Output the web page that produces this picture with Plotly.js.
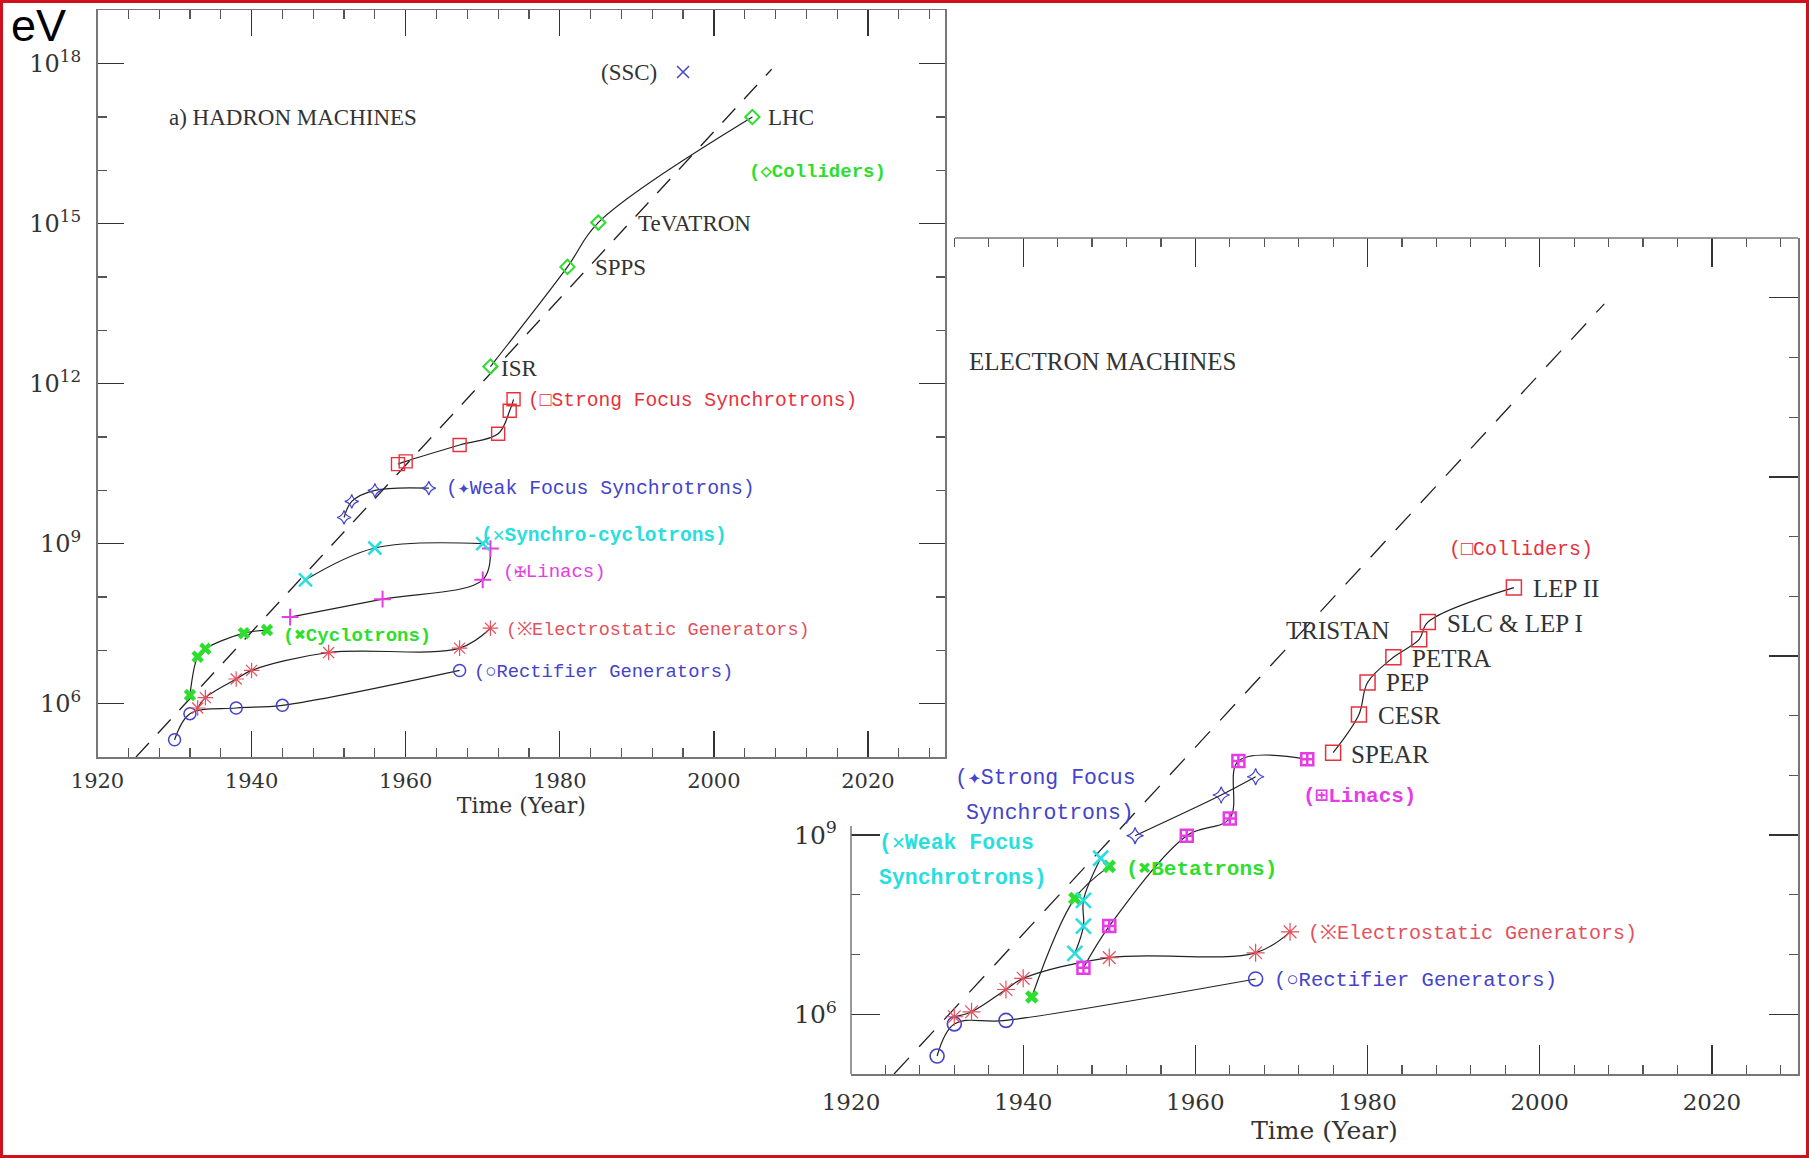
<!DOCTYPE html>
<html><head><meta charset="utf-8">
<script src="https://cdn.plot.ly/plotly-3.0.1.min.js"></script>
<style>html,body{margin:0;padding:0;background:#fff;}#chart{width:1809px;height:1158px;}</style>
</head><body><div id="chart"></div>
<script>
// ===== Data: (a) hadron machines =====
const hadRectYears = [1930, 1932, 1938, 1944, 1967];
const hadRectEnergy = [2.1e5, 6.5e5, 8.3e5, 9.3e5, 4.2e6];
const hadEstatYears = [1933, 1934, 1938, 1940, 1950, 1967, 1971];
const hadEstatEnergy = [8.3e5, 1.3e6, 2.9e6, 4.2e6, 9.1e6, 1.1e7, 2.6e7];
const hadCycloYears = [1932, 1933, 1934, 1939, 1942];
const hadCycloEnergy = [1.45e6, 7.6e6, 1.07e7, 2.1e7, 2.4e7];
const hadLinacYears = [1945, 1957, 1970, 1971];
const hadLinacEnergy = [4.2e7, 9.1e7, 2.1e8, 8.1e8];
const hadSynCycYears = [1947, 1956, 1970];
const hadSynCycEnergy = [2.1e8, 8.3e8, 1.0e9];
const hadWeakYears = [1952, 1953, 1956, 1963];
const hadWeakEnergy = [3.1e9, 6.2e9, 1.0e10, 1.1e10];
const hadStrongYears = [1959, 1960, 1967, 1972, 1973.5, 1974];
const hadStrongEnergy = [3.1e10, 3.5e10, 7.1e10, 1.15e11, 3.1e11, 5.1e11];
const hadCollYears = [1971, 1981, 1985, 2005];
const hadCollEnergy = [2.1e12, 1.55e14, 1.05e15, 1.0e17];
const sscYears = [1996];
const sscEnergy = [7.0e17];

// ===== Data: (b) electron machines =====
const eRectYears = [1930, 1932, 1938, 1967];
const eRectEnergy = [2.0e5, 6.9e5, 7.9e5, 3.9e6];
const eEstatYears = [1932, 1934, 1938, 1940, 1950, 1967, 1971];
const eEstatEnergy = [9.1e5, 1.1e6, 2.6e6, 4.0e6, 8.9e6, 1.07e7, 2.4e7];
const eBetaYears = [1941, 1946, 1950];
const eBetaEnergy = [1.95e6, 8.7e7, 3.0e8];
const eWeakYears = [1946, 1947, 1947, 1949];
const eWeakEnergy = [1.05e7, 3.0e7, 8.1e7, 4.1e8];
const eLinacYears = [1947, 1950, 1959, 1964, 1965, 1973];
const eLinacEnergy = [6.0e6, 3.0e7, 9.8e8, 1.9e9, 1.74e10, 1.86e10];
const eStrongYears = [1953, 1963, 1967];
const eStrongEnergy = [9.8e8, 4.7e9, 9.5e9];
const eCollYears = [1976, 1979, 1980, 1983, 1986, 1987, 1997];
const eCollEnergy = [2.4e10, 1.05e11, 3.6e11, 9.5e11, 1.9e12, 3.7e12, 1.4e13];

// Livingston trend (dashed)
const trendYears = [1925, 2007.5];
const trendEnergy = [1e5, 7.9e17];

// Tick labels
const yearTicks = [1920, 1940, 1960, 1980, 2000, 2020];
const eVTicks = [1e6, 1e9, 1e12, 1e15, 1e18];
const eVTickText = ['10<sup>6</sup>', '10<sup>9</sup>', '10<sup>12</sup>', '10<sup>15</sup>', '10<sup>18</sup>'];
const eVMinor = [1e7, 1e8, 1e10, 1e11, 1e13, 1e14, 1e16, 1e17];

// ===== Layout geometry =====
const W = 1809, H = 1158;
const px = v => v / W, py = v => 1 - v / H;
const R = {l: 851, r: 1798, t: 238, b: 1074};   // electron panel frame
const L = {l: 97.5, r: 945, t: 10.4, b: 757};   // hadron panel frame

const C = {
  red: '#e8303c', red2: '#e4505c', blue: '#4343cc', cyan: '#28dede',
  magenta: '#e63ce6', green: '#2ede2e', ink: '#333'
};

function series(x, y, st, xa, ya, mode) {
  return {type: 'scatter', mode: mode || 'lines+markers', x: x, y: y, xaxis: xa, yaxis: ya,
    cliponaxis: false, hoverinfo: 'skip', showlegend: false,
    line: {color: '#222', width: 1.2, shape: 'spline', smoothing: 1},
    marker: {symbol: st.symbol, size: st.size, color: st.color, line: {color: st.color, width: st.lw}}};
}
function trend(xa, ya, dash) {
  return {type: 'scatter', mode: 'lines', x: trendYears, y: trendEnergy, xaxis: xa, yaxis: ya,
    hoverinfo: 'skip', showlegend: false, line: {color: '#222', width: 1.3, dash: dash}};
}

const sL = {
  rect: {symbol: 'circle-open', size: 12, color: C.blue, lw: 1.5},
  estat: {symbol: 'asterisk-open', size: 13, color: C.red2, lw: 1.2},
  cyclo: {symbol: 'x', size: 11, color: C.green, lw: 0},
  linac: {symbol: 'cross-thin-open', size: 12, color: C.magenta, lw: 2},
  syn: {symbol: 'x-thin-open', size: 13, color: C.cyan, lw: 2.5},
  weak: {symbol: 'star-diamond-open', size: 10, color: C.blue, lw: 1.2},
  strong: {symbol: 'square-open', size: 13, color: C.red, lw: 1.4},
  coll: {symbol: 'diamond-open', size: 11, color: C.green, lw: 2},
  ssc: {symbol: 'x-thin-open', size: 12, color: C.blue, lw: 1.5}
};
const sR = {
  rect: {symbol: 'circle-open', size: 14, color: C.blue, lw: 1.6},
  estat: {symbol: 'asterisk-open', size: 15, color: C.red2, lw: 1.2},
  beta: {symbol: 'x', size: 12, color: C.green, lw: 0},
  weak: {symbol: 'x-thin-open', size: 15, color: C.cyan, lw: 2.6},
  linac: {symbol: 'square-cross-open', size: 12, color: C.magenta, lw: 2.5},
  strong: {symbol: 'star-diamond-open', size: 12, color: C.blue, lw: 1.2},
  coll: {symbol: 'square-open', size: 15, color: C.red, lw: 1.5}
};

const data = [
  // electron panel (x, y)
  trend('x', 'y', '22px,15px'),
  series(eRectYears, eRectEnergy, sR.rect, 'x', 'y'),
  series(eEstatYears, eEstatEnergy, sR.estat, 'x', 'y'),
  series(eBetaYears, eBetaEnergy, sR.beta, 'x', 'y'),
  series(eWeakYears, eWeakEnergy, sR.weak, 'x', 'y'),
  series(eLinacYears, eLinacEnergy, sR.linac, 'x', 'y'),
  series(eStrongYears, eStrongEnergy, sR.strong, 'x', 'y'),
  series(eCollYears, eCollEnergy, sR.coll, 'x', 'y'),
  {type: 'scatter', x: [], y: [], xaxis: 'x3', yaxis: 'y', showlegend: false},
  {type: 'scatter', x: [], y: [], xaxis: 'x', yaxis: 'y3', showlegend: false},
  // hadron panel (x2, y2)
  trend('x2', 'y2', '19px,13px'),
  series(hadRectYears, hadRectEnergy, sL.rect, 'x2', 'y2'),
  series(hadEstatYears, hadEstatEnergy, sL.estat, 'x2', 'y2'),
  series(hadCycloYears, hadCycloEnergy, sL.cyclo, 'x2', 'y2'),
  series(hadLinacYears, hadLinacEnergy, sL.linac, 'x2', 'y2'),
  series(hadSynCycYears, hadSynCycEnergy, sL.syn, 'x2', 'y2'),
  series(hadWeakYears, hadWeakEnergy, sL.weak, 'x2', 'y2'),
  series(hadStrongYears, hadStrongEnergy, sL.strong, 'x2', 'y2'),
  series(hadCollYears, hadCollEnergy, sL.coll, 'x2', 'y2'),
  series(sscYears, sscEnergy, sL.ssc, 'x2', 'y2', 'markers')
];

function ax(o) {
  return Object.assign({showgrid: false, zeroline: false, ticks: 'inside', tickcolor: '#333',
    tickwidth: 1.3, linecolor: '#777', linewidth: 1.5, fixedrange: true}, o);
}
const minorYears = [];
for (let y = 1924; y < 2030; y += 4) if (y % 20 !== 0) minorYears.push(y);
const minorYearsTopR = minorYears.filter(v => v >= 1932);

const serifL = {family: 'Liberation Serif, serif', size: 23, color: C.ink};
const serifR = {family: 'Liberation Serif, serif', size: 25, color: C.ink};
const mono = (size, color) => ({family: 'Liberation Mono, DejaVu Sans Mono, monospace', size: size, color: color});

// [text, year, log10(eV), font, xanchor]
const hadLabels = [
  ['a) HADRON MACHINES', 1929.1, 17.0, serifL],
  ['(SSC)', 1992.7, 17.83, serifL, 'right'],
  ['LHC', 2006.9, 17.0, serifL],
  ['TeVATRON', 1990.0, 15.0, serifL],
  ['SPPS', 1984.4, 14.17, serifL],
  ['ISR', 1972.2, 12.28, serifL],
  ['<b>(◇Colliders)</b>', 2004.4, 15.97, mono(19, C.green)],
  ['(□Strong Focus Synchrotrons)', 1975.7, 11.68, mono(19.6, C.red)],
  ['(✦Weak Focus Synchrotrons)', 1965.1, 10.03, mono(19.8, C.blue)],
  ['<b>(✕Synchro-cyclotrons)</b>', 1969.6, 9.15, mono(19.5, C.cyan)],
  ['(✠Linacs)', 1972.5, 8.46, mono(19, C.magenta)],
  ['(※Electrostatic Generators)', 1972.9, 7.38, mono(18.5, C.red2)],
  ['(○Rectifier Generators)', 1968.7, 6.59, mono(18.8, C.blue)],
  ['<b>(✖Cyclotrons)</b>', 1943.9, 7.27, mono(19, C.green)]
];
const eLabels = [
  ['ELECTRON MACHINES', 1933.6, 16.94, serifR],
  ['TRISTAN', 1970.4, 12.43, serifR],
  ['SPEAR', 1977.96, 10.355, serifR],
  ['CESR', 1981.06, 11.01, serifR],
  ['PEP', 1982.0, 11.56, serifR],
  ['PETRA', 1985.1, 11.96, serifR],
  ['SLC &amp; LEP I', 1989.07, 12.54, serifR],
  ['LEP II', 1999.06, 13.13, serifR],
  ['(□Colliders)', 1989.3, 13.78, mono(20, C.red)],
  ['<b>(⊞Linacs)</b>', 1972.4, 9.65, mono(21, C.magenta)],
  ['(✦Strong Focus', 1931.96, 9.95, mono(21.5, C.blue)],
  ['Synchrotrons)', 1933.24, 9.37, mono(21.5, C.blue)],
  ['<b>(✕Weak Focus</b>', 1923.1, 8.87, mono(21.5, C.cyan)],
  ['<b>Synchrotrons)</b>', 1923.1, 8.28, mono(21.5, C.cyan)],
  ['<b>(✖Betatrons)</b>', 1951.8, 8.43, mono(21, C.green)],
  ['(※Electrostatic Generators)', 1972.96, 7.36, mono(20, C.red2)],
  ['(○Rectifier Generators)', 1969.0, 6.57, mono(20.5, C.blue)]
];
const toAnn = (xa, ya) => l => ({text: l[0], x: l[1], y: l[2], xref: xa, yref: ya,
  xanchor: l[4] || 'left', yanchor: 'middle', showarrow: false, font: l[3], borderpad: 0});

const annotations = hadLabels.map(toAnn('x2', 'y2')).concat(eLabels.map(toAnn('x', 'y')));
annotations.push({text: 'eV', xref: 'paper', yref: 'paper', x: px(10), y: py(25), xanchor: 'left',
  yanchor: 'middle', showarrow: false, borderpad: 0,
  font: {family: 'Liberation Sans, Arial, sans-serif', size: 45, color: '#000'}});

const layout = {
  width: W, height: H, margin: {l: 0, r: 0, t: 0, b: 0},
  paper_bgcolor: '#fff', plot_bgcolor: 'rgba(0,0,0,0)', showlegend: false,
  // electron panel
  xaxis: ax({domain: [px(R.l), px(R.r)], anchor: 'y', range: [1920, 2030], tickmode: 'array',
    tickvals: yearTicks, ticklen: 29, showline: true, ticklabelstandoff: 7,
    tickfont: {family: 'DejaVu Serif, serif', size: 23, color: C.ink},
    minor: {tickvals: minorYears, ticklen: 9, tickcolor: '#555', tickwidth: 1.2, ticks: 'inside'},
    title: {text: 'Time (Year)', font: {family: 'DejaVu Serif, serif', size: 25, color: C.ink}, standoff: 7}}),
  yaxis: ax({domain: [py(R.b), py(R.t)], anchor: 'x', type: 'log', range: [5, 19], tickmode: 'array',
    tickvals: [1e6, 1e9], ticktext: ['10<sup>6</sup>', '10<sup>9</sup>'], ticklen: 29, showline: false,
    ticklabelstandoff: 13, tickfont: {family: 'DejaVu Serif, serif', size: 25, color: C.ink},
    minor: {tickvals: [1e7, 1e8], ticklen: 9, tickcolor: '#555', tickwidth: 1.2, ticks: 'inside'}}),
  xaxis3: ax({overlaying: 'x', side: 'top', anchor: 'y', range: [1920, 2030], tickmode: 'array',
    tickvals: yearTicks.slice(1), ticklen: 29, showline: false, showticklabels: false,
    minor: {tickvals: minorYearsTopR, ticklen: 9, tickcolor: '#555', tickwidth: 1.2, ticks: 'inside'}}),
  yaxis3: ax({overlaying: 'y', side: 'right', anchor: 'x', type: 'log', range: [5, 19], tickmode: 'array',
    tickvals: eVTicks, ticklen: 29, showline: true, showticklabels: false,
    minor: {tickvals: eVMinor, ticklen: 9, tickcolor: '#555', tickwidth: 1.2, ticks: 'inside'}}),
  // hadron panel
  xaxis2: ax({domain: [px(L.l), px(L.r)], anchor: 'y2', range: [1920, 2030], tickmode: 'array',
    tickvals: yearTicks, ticklen: 26, showline: true, mirror: 'ticks', ticklabelstandoff: 4,
    tickfont: {family: 'DejaVu Serif, serif', size: 21, color: C.ink},
    minor: {tickvals: minorYears, ticklen: 9, tickcolor: '#555', tickwidth: 1.2, ticks: 'inside'},
    title: {text: 'Time (Year)', font: {family: 'DejaVu Serif, serif', size: 22, color: C.ink}, standoff: 6}}),
  yaxis2: ax({domain: [py(L.b), py(L.t)], anchor: 'x2', type: 'log', range: [5, 19], tickmode: 'array',
    tickvals: eVTicks, ticktext: eVTickText, ticklen: 26, showline: true, mirror: 'ticks',
    ticklabelstandoff: 10, tickfont: {family: 'DejaVu Serif, serif', size: 24, color: C.ink},
    minor: {tickvals: eVMinor, ticklen: 9, tickcolor: '#555', tickwidth: 1.2, ticks: 'inside'}}),
  annotations: annotations,
  shapes: [
    // visible parts of the electron panel frame (rest hidden under the hadron panel)
    {type: 'line', xref: 'paper', yref: 'paper', x0: px(955), x1: px(R.r), y0: py(R.t), y1: py(R.t),
      line: {color: '#777', width: 1.5}},
    {type: 'line', xref: 'paper', yref: 'paper', x0: px(R.l), x1: px(R.l), y0: py(R.b), y1: py(826),
      line: {color: '#777', width: 1.5}},
    // red outer border
    {type: 'rect', xref: 'paper', yref: 'paper', x0: 0, x1: 1, y0: 0, y1: 1, layer: 'above',
      line: {color: '#d0101c', width: 6}}
  ]
};

Plotly.newPlot('chart', data, layout, {displayModeBar: false, staticPlot: true});
</script></body></html>
